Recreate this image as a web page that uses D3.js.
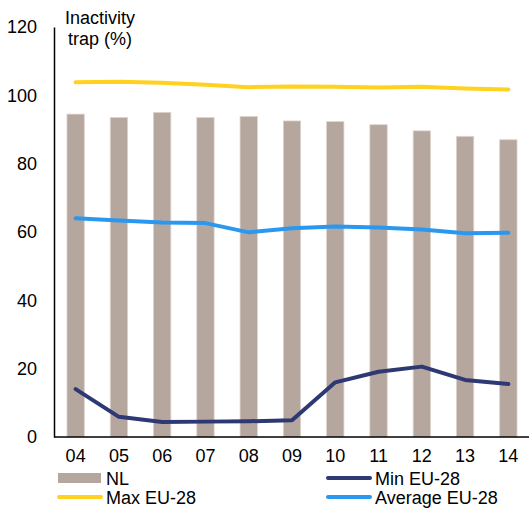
<!DOCTYPE html>
<html><head><meta charset="utf-8">
<script src="https://cdn.jsdelivr.net/npm/d3@7"></script>
<style>body{margin:0;background:#fff}svg{display:block;font-family:"Liberation Sans",Arial,sans-serif}</style>
</head><body><svg id="c" width="529" height="508"></svg>
<script>
const years = ["04","05","06","07","08","09","10","11","12","13","14"];
const nl = [94.5,93.5,95.0,93.5,93.8,92.5,92.3,91.4,89.6,88.0,87.0];
const maxEU = [103.8,104.0,103.7,103.1,102.4,102.6,102.5,102.3,102.5,102.0,101.7];
const avgEU = [64.0,63.4,62.8,62.6,59.9,61.1,61.6,61.3,60.7,59.6,59.8];
const minEU = [14.0,5.9,4.4,4.5,4.6,4.9,16.0,19.1,20.6,16.7,15.5];
const yTicks = [0,20,40,60,80,100,120];
const FS = 18;

const svg = d3.select("#c");
const x = d3.scaleBand().domain(years).range([54,530]).paddingInner(0.6).paddingOuter(0.3);
const y = d3.scaleLinear().domain([0,120]).range([437,27]);

svg.append("g").selectAll("rect").data(nl).join("rect")
  .attr("x",(d,i)=>x(years[i])).attr("width",x.bandwidth())
  .attr("y",d=>y(d)).attr("height",d=>y(0)-y(d))
  .attr("fill","#b5a69e").attr("stroke","#ddd3cd").attr("stroke-width",0.8);

const line = d3.line().x((d,i)=>x(years[i])+x.bandwidth()/2).y(d=>y(d));
const series = [[maxEU,"#ffd21f"],[avgEU,"#2b98f0"],[minEU,"#2e3872"]];
series.forEach(([s,c])=>svg.append("path").datum(s).attr("d",line)
  .attr("fill","none").attr("stroke",c).attr("stroke-width",4).attr("stroke-linejoin","round").attr("stroke-linecap","round"));

// axes
const ya = svg.append("g").attr("transform","translate(54,0)")
  .call(d3.axisLeft(y).tickValues(yTicks).tickSize(0).tickPadding(17));
ya.select(".domain").attr("stroke","#000").attr("stroke-width",1.5);
ya.selectAll("text").attr("font-size",FS).attr("fill","#000").attr("font-family","Liberation Sans, Arial, sans-serif");

const xa = svg.append("g").attr("transform","translate(0,437)")
  .call(d3.axisBottom(x).tickSize(0).tickPadding(12));
xa.select(".domain").attr("stroke","#000").attr("stroke-width",1.5).attr("d","M54,0H530");
xa.selectAll("text").attr("font-size",FS).attr("fill","#000").attr("font-family","Liberation Sans, Arial, sans-serif");

// title
const t = svg.append("text").attr("x",100).attr("font-size",FS).attr("text-anchor","middle").attr("fill","#000");
t.append("tspan").attr("x",100).attr("y",24).text("Inactivity");
t.append("tspan").attr("x",100).attr("y",45).text("trap (%)");

// legend
const leg = [
  {name:"NL",type:"bar",color:"#b5a69e",x:58,y:478},
  {name:"Min EU-28",type:"line",color:"#2e3872",x:327,y:478},
  {name:"Max EU-28",type:"line",color:"#ffd21f",x:58,y:497},
  {name:"Average EU-28",type:"line",color:"#2b98f0",x:327,y:497}
];
const lg = svg.append("g");
leg.forEach(l=>{
  if(l.type==="bar") lg.append("rect").attr("x",l.x).attr("y",l.y-5).attr("width",43).attr("height",10).attr("fill",l.color);
  else lg.append("line").attr("x1",l.x+1).attr("x2",l.x+43).attr("y1",l.y).attr("y2",l.y).attr("stroke",l.color).attr("stroke-width",4).attr("stroke-linecap","round");
  lg.append("text").attr("x",l.x+48).attr("y",l.y+6.5).attr("font-size",FS).attr("fill","#000").text(l.name);
});
</script></body></html>
